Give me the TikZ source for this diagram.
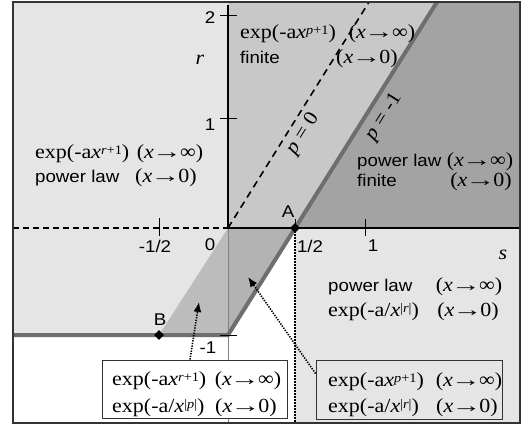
\documentclass[tikz,border=0pt]{standalone}
\usepackage{fontspec}
\usepackage{graphicx}
\setmainfont{Liberation Serif}[FakeStretch=1.1]
\setsansfont{Liberation Sans}[FakeStretch=1.1]
\usetikzlibrary{arrows.meta,shapes.geometric}
\definecolor{lightg}{HTML}{E5E5E5}
\definecolor{midg}{HTML}{C8C8C8}
\definecolor{darkg}{HTML}{A3A3A3}
\definecolor{parag}{HTML}{B3B3B3}
\definecolor{trig}{HTML}{BCBCBC}
\definecolor{lineg}{HTML}{6E6E6E}
\definecolor{frameg}{HTML}{333333}
\newcommand{\vx}{\textit{x}}
\newcommand{\arr}{\kern-1.8pt\scalebox{1.35}[1]{→}\kern-1.8pt}
\newcommand{\spr}[1]{\raisebox{4pt}{\fontsize{13}{13}\selectfont #1}}
\tikzset{
  sr/.style={inner sep=0pt, font=\fontsize{20}{22}\selectfont},
  srw/.style={sr, anchor=base west},
  src/.style={sr, anchor=base},
  sa/.style={inner sep=0pt, font=\sffamily\fontsize{17}{20}\selectfont},
  saw/.style={sa, anchor=base west},
  boxst/.style={draw=frameg, line width=1pt, inner sep=0pt},
  dia/.style={diamond, fill=black, inner sep=0pt, minimum size=10pt},
  tick/.style={line width=0.9pt, black},
  darr/.style={line width=1.6pt, dash pattern=on 1.3pt off 1.3pt, -{Latex[length=10pt,width=8pt]}},
}
\begin{document}
\begin{tikzpicture}[x=1pt,y=-1pt]
\useasboundingbox (0,0) rectangle (521,426);
% points
\coordinate (O) at (228,228);
\coordinate (A) at (295,228);
\coordinate (C) at (228,335);
\coordinate (B) at (159,335);
\coordinate (Ptop) at (437,2);
\coordinate (Qtop) at (369,2);
% regions
\fill[lightg] (13,2) rectangle (520,423);
\fill[midg] (O) -- (228,2) -- (Ptop) -- (A) -- cycle;
\fill[darkg] (A) -- (Ptop) -- (520,2) -- (520,228) -- cycle;
\fill[parag] (O) -- (A) -- (C) -- cycle;
\fill[trig] (O) -- (B) -- (C) -- cycle;
\fill[white] (13,335) -- (C) -- (A) -- (295,423) -- (13,423) -- cycle;
% lines
\draw[gray, line width=1pt] (O) -- (228,423);
\draw[line width=1.2pt, dash pattern=on 6pt off 4pt] (13,228) -- (O);
\draw[line width=1.6pt, dash pattern=on 7pt off 5pt] (O) -- (Qtop);
\draw[lineg, line width=4pt] (13,335) -- (C) -- (Ptop);
\draw[line width=2.6pt] (228,5) -- (O) -- (520,228);
\draw[line width=2pt, dash pattern=on 1.5pt off 1.5pt] (A) -- (295,423);
% ticks
\draw[tick] (220,15) -- (237,15);
\draw[tick] (220,118) -- (237,118);
\draw[tick] (220,335) -- (237,335);
\draw[tick] (159,218) -- (159,236);
\draw[tick] (365,219) -- (365,236);
\draw[tick] (295,219) -- (295,228);
% frame
\draw[frameg, line width=1.8pt] (13,2) rectangle (520,423);
% points
\node[dia] (nA) at (A) {};
\node[dia] (nB) at (B) {};
% axis labels
\node[sa] (l2) at (210,18) {2};
\node[sa] (l1) at (210,125) {1};
\node[sr] (lr) at (200,60) {\textit{r}};
\node[sa] (lmh) at (155,246) {-1/2};
\node[sa] (l0) at (210,245) {0};
\node[sa] (lh) at (310,246) {1/2};
\node[sa] (l1s) at (373,246) {1};
\node[sr] (ls) at (503,255) {\textit{s}};
\node[sa] (lm1) at (208,348) {-1};
\node[sa] (lA) at (288,212) {A};
\node[sa] (lB) at (160,320) {B};
% line labels
\node[sr, rotate=58] (p0) at (303,134) {\textit{p} = 0};
\node[sr, rotate=58] (pm1) at (384,117) {\textit{p} = -1};
% top middle block
\node[srw] (a1) at (240,38) {exp(-a\vx\spr{\textit{p}+1})};
\node[src] (a2) at (382,38) {(\vx\arr∞)};
\node[saw] (a3) at (240,63) {finite};
\node[src] (a4) at (367,63) {(\vx\arr0)};
% left block
\node[srw] (b1) at (35,158) {exp(-a\vx\spr{\textit{r}+1})};
\node[src] (b2) at (170,158) {(\vx\arr∞)};
\node[saw] (b3) at (35,182) {power law};
\node[src] (b4) at (166,182) {(\vx\arr0)};
% right dark block
\node[saw] (c1) at (357,166) {power law};
\node[src] (c2) at (480,166) {(\vx\arr∞)};
\node[saw] (c3) at (357,186) {finite};
\node[src] (c4) at (481,186) {(\vx\arr0)};
% bottom right block
\node[saw] (d1) at (328,291) {power law};
\node[src] (d2) at (469,291) {(\vx\arr∞)};
\node[srw] (d3) at (328,316) {exp(-a/\vx\spr{|\textit{r}|})};
\node[src] (d4) at (468,316) {(\vx\arr0)};
% boxes
\node[boxst, fill=white, minimum width=185pt, minimum height=58pt] (box1) at (194.5,389) {};
\node[boxst, fill=lightg, minimum width=186pt, minimum height=59pt] (box2) at (409,389.5) {};
\node[srw] (e1) at (112,385) {exp(-a\vx\spr{\textit{r}+1})};
\node[src] (e2) at (248,385) {(\vx\arr∞)};
\node[srw] (e3) at (112,412) {exp(-a/\vx\spr{|\textit{p}|})};
\node[src] (e4) at (246,412) {(\vx\arr0)};
\node[srw] (f1) at (328,386) {exp(-a\vx\spr{\textit{p}+1})};
\node[src] (f2) at (469,386) {(\vx\arr∞)};
\node[srw] (f3) at (328,412) {exp(-a/\vx\spr{|\textit{r}|})};
\node[src] (f4) at (467,412) {(\vx\arr0)};
% arrows
\coordinate (t1) at (199,302);
\coordinate (t2) at (248,277);
\draw[darr] ([xshift=-4.5pt]box1.north) -- (t1);
\draw[darr] ([yshift=-14pt]box2.north west) -- (t2);
\end{tikzpicture}
\end{document}
